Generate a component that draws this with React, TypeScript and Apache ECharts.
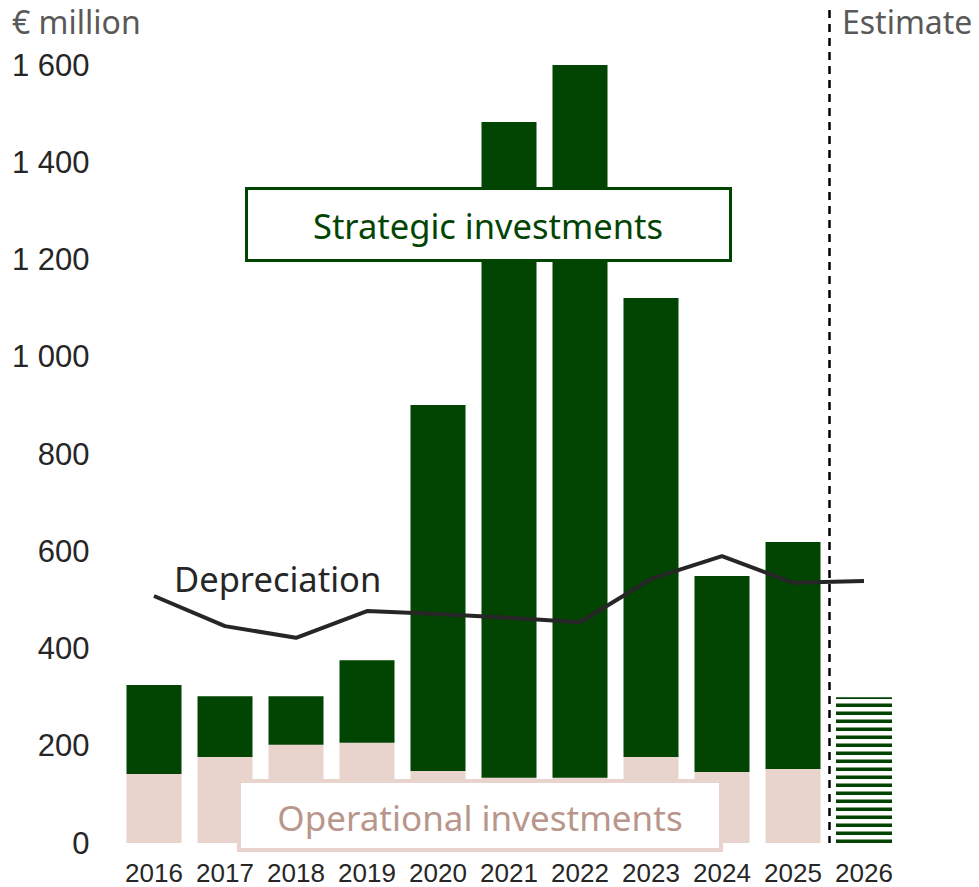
import React, { useEffect, useRef } from "react";
import * as echarts from "echarts";

const categories = ["2016", "2017", "2018", "2019", "2020", "2021", "2022", "2023", "2024", "2025", "2026"];
const operational = [142, 177, 202, 206, 148, 134, 134, 177, 146, 152, null];
const strategic = [183, 125, 100, 170, 753, 1349, 1466, 944, 403, 467, null];
const estimate2026 = [[10, 300]];
const depreciation = [508, 446, 422, 477, 471, 463, 454, 543, 590, 535, 539];
const yMin = 0;
const yMax = 1600;
const yInterval = 200;

const GREEN = "#024402";
const PINK = "#e8d4cd";
const LABEL_FONT = "'Noto Sans', 'Open Sans', sans-serif";
const TICK_FONT = "'Liberation Sans', Arial, sans-serif";

export default function App() {
  const ref = useRef<HTMLDivElement>(null);
  useEffect(() => {
    if (!ref.current) return;
    document.body.style.margin = "0";
    const chart = echarts.init(ref.current, undefined, { renderer: "svg" });
    chart.setOption({
      animation: false,
      grid: { left: 118.5, right: 79.5, top: 65, bottom: 44, containLabel: false },
      xAxis: {
        type: "category",
        data: categories,
        axisLine: { show: false },
        axisTick: { show: false },
        axisLabel: {
          color: "#262626",
          fontSize: 26,
          fontFamily: TICK_FONT,
          margin: 19,
          lineHeight: 22,
          interval: 0,
        },
      },
      yAxis: {
        type: "value",
        min: yMin,
        max: yMax,
        interval: yInterval,
        axisLine: { show: false },
        axisTick: { show: false },
        splitLine: { show: false },
        axisLabel: {
          color: "#262626",
          fontSize: 31,
          fontFamily: TICK_FONT,
          margin: 29,
          formatter: (v: number) =>
            v >= 1000 ? Math.floor(v / 1000) + " " + String(v % 1000).padStart(3, "0") : String(v),
        },
      },
      series: [
        {
          type: "bar",
          name: "Operational investments",
          stack: "inv",
          data: operational,
          barWidth: 55,
          itemStyle: { color: PINK },
          z: 2,
        },
        {
          type: "bar",
          name: "Strategic investments",
          stack: "inv",
          data: strategic,
          barWidth: 55,
          itemStyle: { color: GREEN },
          z: 2,
        },
        {
          type: "custom",
          name: "Estimate",
          data: estimate2026,
          encode: { x: 0, y: 1 },
          z: 2,
          renderItem: (params: any, api: any) => {
            const idx = api.value(0);
            const v = api.value(1);
            const top = api.coord([idx, v]);
            const base = api.coord([idx, 0]);
            const w = 56;
            const x0 = base[0] - w / 2;
            const period = 8;
            const thick = 3.5;
            const children: any[] = [];
            for (let y = base[1]; y > top[1]; y -= period) {
              const y1 = Math.max(y - thick, top[1]);
              children.push({
                type: "rect",
                shape: { x: x0, y: y1, width: w, height: y - y1 },
                style: { fill: GREEN },
              });
            }
            return { type: "group", children };
          },
        },
        {
          type: "line",
          name: "Depreciation",
          data: depreciation,
          symbol: "none",
          lineStyle: { color: "#262626", width: 4 },
          z: 5,
        },
      ],
    });

    const p25 = chart.convertToPixel({ xAxisIndex: 0 }, "2025") as number;
    const p26 = chart.convertToPixel({ xAxisIndex: 0 }, "2026") as number;
    const dashX = (p25 + p26) / 2 + 1;
    const baseY = chart.convertToPixel({ yAxisIndex: 0 }, 0) as number;

    chart.setOption({
      graphic: [
        {
          type: "line",
          shape: { x1: dashX, y1: 10, x2: dashX, y2: baseY },
          style: { stroke: "#000", lineWidth: 2.5, lineDash: [8, 6] },
          z: 50,
        },
        {
          type: "text",
          x: 12,
          y: 21,
          style: {
            text: "€ million",
            fill: "#595959",
            fontSize: 32,
            fontFamily: LABEL_FONT,
            verticalAlign: "middle",
          },
        },
        {
          type: "text",
          x: 842,
          y: 21,
          style: {
            text: "Estimate",
            fill: "#595959",
            fontSize: 32,
            fontFamily: LABEL_FONT,
            verticalAlign: "middle",
          },
        },
        {
          type: "text",
          x: 174,
          y: 578,
          style: {
            text: "Depreciation",
            fill: "#262626",
            fontSize: 34.5,
            fontFamily: LABEL_FONT,
            verticalAlign: "middle",
          },
        },
        {
          type: "rect",
          shape: { x: 246.5, y: 188.5, width: 484, height: 72 },
          style: { fill: "#fff", stroke: GREEN, lineWidth: 3 },
          z: 60,
        },
        {
          type: "text",
          x: 488,
          y: 225,
          style: {
            text: "Strategic investments",
            fill: GREEN,
            fontSize: 34.5,
            fontFamily: LABEL_FONT,
            align: "center",
            verticalAlign: "middle",
          },
          z: 61,
        },
        {
          type: "rect",
          shape: { x: 239, y: 781, width: 482, height: 69 },
          style: { fill: "#fff", stroke: PINK, lineWidth: 4 },
          z: 60,
        },
        {
          type: "text",
          x: 480,
          y: 817,
          style: {
            text: "Operational investments",
            fill: "#b9968b",
            fontSize: 35,
            fontFamily: LABEL_FONT,
            align: "center",
            verticalAlign: "middle",
          },
          z: 61,
        },
      ],
    });
    return () => chart.dispose();
  }, []);
  return <div ref={ref} style={{ width: 979, height: 887 }} />;
}
